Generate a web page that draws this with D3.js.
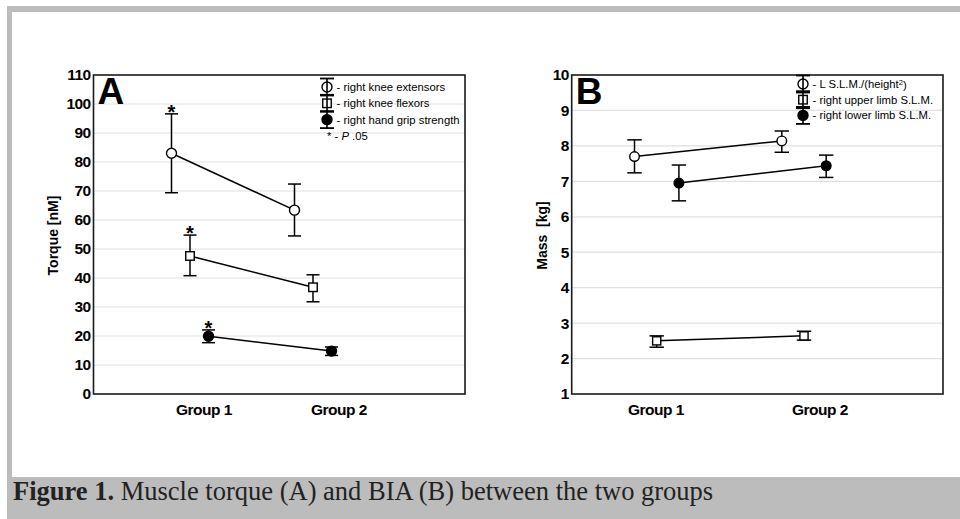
<!DOCTYPE html>
<html>
<head>
<meta charset="utf-8">
<script src="https://cdn.jsdelivr.net/npm/d3@7"></script>
<style>
	body { margin: 0; background: #fff; }
	svg { display: block; font-family: "Liberation Sans", Arial, sans-serif; }
</style>
</head>
<body>
<div id="main"></div>
<script>
// groups on the x axis
var groups = ["Group 1", "Group 2"];

// panel A - muscle torque
var torqueSeries = ["right knee extensors", "right knee flexors", "right hand grip strength"];
var torqueMean = [[83.0, 63.4], [47.6, 36.8], [19.9, 14.8]];
var torqueLow  = [[69.4, 54.5], [40.8, 31.8], [17.7, 13.3]];
var torqueHigh = [[96.6, 72.4], [54.8, 41.1], [22.1, 16.2]];
var torqueSig  = [[true, false], [true, false], [true, false]];
var torqueTicks = [0, 10, 20, 30, 40, 50, 60, 70, 80, 90, 100, 110];

// panel B - BIA
var massSeries = ["L S.L.M./(height²)", "right upper limb S.L.M.", "right lower limb S.L.M."];
var massMean = [[7.70, 8.14], [2.50, 2.64], [6.95, 7.44]];
var massLow  = [[7.24, 7.82], [2.32, 2.52], [6.45, 7.11]];
var massHigh = [[8.17, 8.42], [2.64, 2.77], [7.46, 7.74]];
var massTicks = [1, 2, 3, 4, 5, 6, 7, 8, 9, 10];

var svg = d3.select("#main")
	.append("svg")
	.attr("width", 960)
	.attr("height", 519)

// grey page frame + caption strip
var frameCol = "#bcbcbc";
svg.append("rect").attr("x", 7).attr("y", 6).attr("width", 953).attr("height", 6).attr("fill", frameCol)
svg.append("rect").attr("x", 7).attr("y", 6).attr("width", 5).attr("height", 472).attr("fill", frameCol)
svg.append("rect").attr("x", 7).attr("y", 477).attr("width", 953).attr("height", 42).attr("fill", frameCol)

var cap = svg.append("text")
	.attr("x", 13)
	.attr("y", 500)
	.style("font-family", "'Liberation Serif', 'Times New Roman', serif")
	.style("font-size", "26.5px")
	.attr("fill", "#222")
cap.append("tspan").style("font-weight", "bold").text("Figure 1.")
cap.append("tspan").text(" Muscle torque (A) and BIA (B) between the two groups")

function marker(g, type, x, y, r) {
	if (type == 1) {
		var s = r * 1.7;
		g.append("rect")
			.attr("x", x - s / 2).attr("y", y - s / 2)
			.attr("width", s).attr("height", s)
			.attr("fill", "#fff").attr("stroke", "#000").attr("stroke-width", 1.4)
	} else {
		g.append("circle")
			.attr("cx", x).attr("cy", y).attr("r", r)
			.attr("fill", type == 2 ? "#000" : "#fff")
			.attr("stroke", "#000").attr("stroke-width", 1.4)
	}
}

function drawPanel(o) {
	var g = svg.append("g");
	var y = d3.scaleLinear()
		.domain(o.domain)
		.range([o.top + o.height, o.top])
	var xg = d3.scalePoint().domain(groups).range(o.centers)
	var xs = d3.scalePoint().domain(d3.range(o.series.length)).range([-o.spread, o.spread])
	var xl = d3.scalePoint().domain(groups).range(o.labels)

	// gridlines
	g.selectAll(".grid")
		.data(o.ticks.slice(1, -1))
		.enter()
		.append("line")
		.attr("x1", o.left).attr("x2", o.left + o.width)
		.attr("y1", function(d) { return y(d) }).attr("y2", function(d) { return y(d) })
		.attr("stroke", "#e0e0e0").attr("stroke-width", 1.2)

	// y axis labels
	var ax = g.append("g")
		.attr("transform", "translate(" + o.left + ",0)")
		.call(d3.axisLeft(y).tickValues(o.ticks).tickSize(0).tickPadding(3))
	ax.select(".domain").remove()
	ax.selectAll("text")
		.style("font-family", "'Liberation Sans', Arial, sans-serif")
		.style("font-size", "15.5px")
		.style("font-weight", "bold")
		.style("letter-spacing", "-0.6px")
		.attr("fill", "#000")

	// y title
	g.append("text")
		.attr("transform", "translate(" + o.titleX + "," + (o.top + o.height / 2 + 1) + ") rotate(-90)")
		.attr("text-anchor", "middle")
		.attr("dy", "0.35em")
		.style("font-size", "14px")
		.style("font-weight", "bold")
		.style("white-space", "pre")
		.text(o.title)

	// group labels
	g.selectAll(".grp")
		.data(groups)
		.enter()
		.append("text")
		.attr("x", function(d) { return xl(d) })
		.attr("y", o.top + o.height + 21)
		.attr("text-anchor", "middle")
		.style("font-size", "15.5px")
		.style("font-weight", "bold")
		.style("letter-spacing", "-0.5px")
		.text(function(d) { return d })

	// connecting lines
	o.series.forEach(function(s, i) {
		g.append("line")
			.attr("x1", xg(groups[0]) + xs(i)).attr("y1", y(o.mean[i][0]))
			.attr("x2", xg(groups[1]) + xs(i)).attr("y2", y(o.mean[i][1]))
			.attr("stroke", "#000").attr("stroke-width", 1.5)
	})

	// error bars + markers
	o.series.forEach(function(s, i) {
		groups.forEach(function(gr, j) {
			var x = xg(gr) + xs(i);
			var yl = y(o.low[i][j]), yh = y(o.high[i][j]);
			g.append("line").attr("x1", x).attr("x2", x).attr("y1", yl).attr("y2", yh)
				.attr("stroke", "#000").attr("stroke-width", 1.5)
			;[yl, yh].forEach(function(v) {
				g.append("line").attr("x1", x - o.capW).attr("x2", x + o.capW).attr("y1", v).attr("y2", v)
					.attr("stroke", "#000").attr("stroke-width", 1.5)
			})
			marker(g, i, x, y(o.mean[i][j]), o.r)
			if (o.sig && o.sig[i][j]) {
				g.append("text")
					.attr("x", x).attr("y", yh + 5)
					.attr("text-anchor", "middle")
					.style("font-size", "20px")
					.style("font-weight", "bold")
					.text("*")
			}
		})
	})

	// frame
	g.append("rect")
		.attr("x", o.left).attr("y", o.top)
		.attr("width", o.width).attr("height", o.height)
		.attr("fill", "none").attr("stroke", "#1a1a1a").attr("stroke-width", 1.6)

	// panel letter
	g.append("text")
		.attr("x", o.left + 4).attr("y", o.top + 29)
		.style("font-size", "37px")
		.style("font-weight", "bold")
		.text(o.letter)

	// legend
	var lg = g.append("g")
	o.series.forEach(function(s, i) {
		var ly = o.legY + i * o.legStep;
		marker(lg, i, o.legX, ly, 5)
		lg.append("line").attr("x1", o.legX).attr("x2", o.legX).attr("y1", ly - 8.5).attr("y2", ly + 8.5)
			.attr("stroke", "#000").attr("stroke-width", 1.6)
		;[ly - 8.5, ly + 8.5].forEach(function(v) {
			lg.append("line").attr("x1", o.legX - 7).attr("x2", o.legX + 7).attr("y1", v).attr("y2", v)
				.attr("stroke", "#000").attr("stroke-width", 1.8)
		})
		var t = lg.append("text")
			.attr("x", o.legX + 9.5).attr("y", ly).attr("dy", "0.35em")
			.style("font-size", "11.3px")
		var parts = ("- " + s).split("²");
		t.append("tspan").text(parts[0])
		if (parts.length > 1) {
			t.append("tspan").attr("dy", "-0.4em").style("font-size", "7.5px").text("2")
			t.append("tspan").attr("dy", "0.4em").text(parts[1])
		}
	})
	if (o.sig) {
		var ly = o.legY + o.series.length * o.legStep;
		var t = lg.append("text")
			.attr("x", o.legX + 6).attr("y", ly).attr("dy", "0.35em")
			.style("font-size", "11.3px")
		t.append("tspan").attr("dx", "-6").text("*  - ")
		t.append("tspan").style("font-style", "italic").text("P")
		t.append("tspan").text(" .05")
	}
}

drawPanel({
	left: 93.5, top: 75, width: 371.5, height: 319,
	domain: [0, 110], ticks: torqueTicks,
	centers: [190, 313], spread: 18.5, labels: [204, 339],
	series: torqueSeries, mean: torqueMean, low: torqueLow, high: torqueHigh, sig: torqueSig,
	capW: 6.5, r: 5,
	title: "Torque [nM]", titleX: 53, letter: "A",
	legX: 327, legY: 87, legStep: 16.3
})

drawPanel({
	left: 571.7, top: 75, width: 371.3, height: 319,
	domain: [1, 10], ticks: massTicks,
	centers: [656.7, 804], spread: 22.2, labels: [656, 820],
	series: massSeries, mean: massMean, low: massLow, high: massHigh, sig: null,
	capW: 7.2, r: 4.8,
	title: "Mass  [kg]", titleX: 542, letter: "B",
	legX: 803, legY: 84, legStep: 15.7
})
</script>
</body>
</html>
